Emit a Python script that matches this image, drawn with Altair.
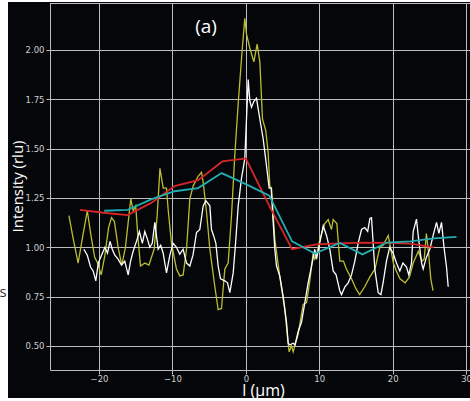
import altair as alt
import pandas as pd

# ---- data ----
yellow_x = [-24.1, -23.5, -22.85, -22.2, -21.6, -21.1, -20.6, -20.2, -19.7, -19.2, -18.7, -18.3, -17.9, -17.4,
            -16.9, -16.4, -15.9, -15.67, -15.35, -15.0, -14.7, -14.35, -13.76, -13.2, -12.5, -12.1, -11.7,
            -11.26, -10.81, -10.58, -10.13, -9.45, -9.0, -8.54, -8.08, -7.63, -7.18, -6.5, -6.04, -5.81, -5.36,
            -4.9, -4.22, -3.77, -3.32, -2.86, -2.41, -1.95, -1.5, -1.0, -0.5, -0.14, 0.09, 0.54, 1.09, 1.54,
            1.91, 2.27, 2.72, 3.04, 3.27, 3.5, 3.95, 4.63, 5.31, 5.77, 5.9, 6.22, 6.45, 6.67, 7.13, 7.81, 8.27,
            8.72, 9.17, 9.4, 9.7, 10.08, 10.76, 11.22, 11.67, 11.9, 12.4, 12.8, 13.3, 13.7, 14.4, 15.0, 15.5,
            16.2, 16.9, 17.6, 18.25, 18.7, 19.4, 20.1, 20.5, 21.0, 21.7, 22.3, 22.8, 23.5, 24.0, 24.3, 24.6,
            24.9, 25.2, 25.5]
yellow_y = [1.16, 1.04, 0.92, 1.06, 1.185, 1.06, 0.95, 0.92, 0.86, 0.96, 1.10, 1.15, 1.13, 1.00,
            0.91, 1.00, 1.17, 1.245, 1.185, 1.21, 1.05, 0.905, 0.92, 0.91, 0.99, 1.15, 1.40,
            1.30, 1.30, 1.19, 1.02, 0.89, 0.855, 0.86, 0.99, 1.245, 1.31, 1.36, 1.38, 1.33, 1.18,
            0.99, 0.80, 0.684, 0.69, 0.89, 0.92, 1.16, 1.47, 1.75, 2.0, 2.16, 2.08, 2.01, 1.94, 2.03,
            1.94, 1.65, 1.59, 1.48, 1.31, 1.30, 1.04, 0.85, 0.684, 0.51, 0.47, 0.50, 0.47, 0.50, 0.56, 0.71, 0.72,
            0.83, 0.97, 0.94, 0.97, 1.04, 1.12, 1.14, 1.09, 1.14, 1.12, 0.93, 0.93, 0.89, 0.84, 0.79, 0.76,
            0.80, 0.85, 0.89, 1.0, 1.01, 1.06, 0.92, 0.88, 0.84, 0.82, 0.85, 0.92, 0.98, 0.93, 0.94, 1.07,
            0.97, 0.84, 0.78]

white_x = [-22.07, -21.6, -21.16, -20.8, -20.44, -20.1, -19.66, -19.2, -18.85, -18.5, -18.2, -17.85, -17.4,
           -16.94, -16.5, -16.03, -15.7, -15.35, -14.9, -14.5, -14.1, -13.76, -13.4, -13.08, -12.75, -12.4,
           -12.15, -11.94, -11.6, -11.26, -10.81, -10.35, -9.9, -9.45, -9.0, -8.54, -8.08, -7.63, -7.2, -6.72,
           -6.27, -5.81, -5.45, -5.1, -4.9, -4.68, -4.4, -4.08, -3.77, -3.45, -3.15, -2.86, -2.5, -2.18, -1.72,
           -1.36, -1.04, -0.59, -0.36, -0.14, 0.32, 0.55, 0.77, 1.1, 1.45, 1.91, 2.36, 2.81, 3.18, 3.45, 3.72,
           3.95, 4.18, 4.63, 5.09, 5.54, 5.77, 6.0, 6.22, 6.45, 6.7, 7.13, 7.58, 8.04, 8.49, 8.95, 9.4, 9.63,
           10.08, 10.54, 10.99, 11.44, 11.9, 12.3, 12.8, 13.04, 13.5, 13.94, 14.4, 14.85, 15.3, 15.76, 16.2,
           16.6, 16.9, 17.12, 17.35, 17.57, 18.03, 18.4, 18.7, 19.16, 19.6, 20.07, 20.52, 20.98, 21.4, 21.89,
           22.2, 22.57, 22.8, 23.25, 23.48, 23.94, 24.16, 24.6, 25.07, 25.52, 25.98, 26.3, 26.66, 27.0, 27.34,
           27.57]
white_y = [0.99, 0.96, 0.90, 0.88, 0.83, 0.92, 0.96, 1.00, 0.97, 1.03, 0.99, 0.96, 0.94,
           0.91, 0.93, 0.86, 0.93, 0.98, 1.03, 1.08, 1.02, 1.08, 1.04, 1.0, 1.02, 1.126,
           1.05, 0.99, 1.01, 0.97, 0.87, 0.96, 1.02, 1.00, 0.965, 0.99, 0.92, 0.905, 0.96, 1.075,
           1.09, 1.21, 1.236, 1.22, 1.21, 1.09, 1.06, 1.02, 0.905, 0.84, 0.835, 0.83, 0.82, 0.77, 0.87,
           1.04, 1.21, 1.35, 1.40, 1.45, 1.85, 1.74, 1.71, 1.74, 1.755, 1.65, 1.55, 1.415, 1.30, 1.30, 1.13,
           0.99, 0.905, 0.854, 0.75, 0.62, 0.514, 0.505, 0.51, 0.514, 0.505, 0.573, 0.62, 0.72, 0.82, 0.905, 0.99, 0.94,
           1.024, 1.109, 1.06, 0.99, 0.88, 0.86, 0.78, 0.76, 0.80, 0.82, 0.86, 0.93, 1.02, 1.09, 1.10,
           1.08, 1.146, 1.15, 1.02, 0.89, 0.77, 0.76, 0.82, 0.93, 1.0, 0.97, 0.92, 0.88, 0.92, 0.90,
           0.86, 0.92, 1.08, 1.143, 1.06, 0.92, 0.89, 0.95, 0.99, 1.06, 1.126, 1.07, 1.126, 1.0, 0.90,
           0.80]

red_x = [-22.6, -19.4, -16.1, -12.9, -9.7, -6.5, -3.2, 0.0, 3.2, 6.3, 9.6, 12.8, 16.0, 19.2, 22.4, 25.6]
red_y = [1.19, 1.175, 1.163, 1.225, 1.31, 1.34, 1.435, 1.45, 1.21, 0.99, 1.015, 1.02, 1.024, 1.022, 1.018, 1.0]

teal_x = [-19.3, -16.1, -12.9, -9.7, -6.5, -3.3, 0.0, 3.2, 6.3, 9.4, 12.8, 15.9, 19.2, 22.4, 25.6, 28.7]
teal_y = [1.185, 1.19, 1.243, 1.284, 1.30, 1.376, 1.32, 1.262, 1.03, 0.968, 1.022, 0.964, 1.024, 1.03, 1.045, 1.053]

x_ticks = [-20, -10, 0, 10, 20, 30]
y_ticks = [0.5, 0.75, 1.0, 1.25, 1.5, 1.75, 2.0]

GRID = "#bdbdbd"
BG = "#05060a"

x_scale = alt.Scale(domain=[-26.68, 30.54], nice=False, zero=False)
y_scale = alt.Scale(domain=[0.378, 2.238], nice=False, zero=False)

x_axis = alt.Axis(values=x_ticks, grid=True, gridColor=GRID, gridWidth=1, domainColor=GRID,
                  tickColor=GRID, tickSize=4, labelColor="#d0d0d0", labelFont="DejaVu Sans",
                  labelFontSize=8.5, labelPadding=0, title="l (μm)", titleColor="white",
                  titleFont="Open Sans", titleFontSize=16, titleFontWeight="normal",
                  titleX=213, titleY=25, titleAlign="center", titleBaseline="alphabetic")
y_axis = alt.Axis(values=y_ticks, format=".2f", grid=True, gridColor=GRID, gridWidth=1, domainColor=GRID,
                  tickColor=GRID, tickSize=4, labelColor="#d0d0d0", labelFont="DejaVu Sans",
                  labelFontSize=8.5, labelPadding=2, title="Intensity (rlu)", titleColor="white",
                  titleFont="Open Sans", titleFontSize=15, titleFontWeight="normal",
                  titleX=-28, titleY=183, titleAlign="center", titleBaseline="alphabetic", titleAngle=270)


def series(xs, ys, color, width):
    df = pd.DataFrame({"x": xs, "y": ys})
    return alt.Chart(df).mark_line(color=color, strokeWidth=width, clip=True).encode(
        x=alt.X("x:Q", scale=x_scale, axis=x_axis),
        y=alt.Y("y:Q", scale=y_scale, axis=y_axis),
    )


one = pd.DataFrame({"a": [0]})

top_rule = alt.Chart(one).mark_rule(color=GRID, strokeWidth=1).encode(y=alt.value(0.5))
left_strip = alt.Chart(one).mark_rect(color="white").encode(
    x=alt.value(-50), x2=alt.value(-42), y=alt.value(-3), y2=alt.value(398))
bottom_strip = alt.Chart(one).mark_rect(color="white").encode(
    x=alt.value(-50), x2=alt.value(420), y=alt.value(395), y2=alt.value(398))
top_strip = alt.Chart(one).mark_rect(color="white").encode(
    x=alt.value(-50), x2=alt.value(420), y=alt.value(-3), y2=alt.value(-1))
label_a = alt.Chart(one).mark_text(text="(a)", color="white", font="Open Sans", fontSize=19,
                                   align="center", baseline="middle").encode(
    x=alt.value(156), y=alt.value(24))
label_s = alt.Chart(one).mark_text(text="s", color="#333333", font="Open Sans", fontSize=15,
                                   align="center", baseline="middle").encode(
    x=alt.value(-47), y=alt.value(289))

chart = alt.layer(
    series(yellow_x, yellow_y, "#bcbd30", 1.3),
    series(white_x, white_y, "#ffffff", 1.3),
    series(red_x, red_y, "#d62728", 1.8),
    series(teal_x, teal_y, "#22adb0", 1.8),
    top_rule, left_strip, bottom_strip, top_strip, label_a, label_s,
).properties(
    width=420, height=367,
    background=BG,
    padding={"left": 50, "top": 3, "right": 0, "bottom": 31},
    autosize=alt.AutoSizeParams(type="none"),
).configure_view(stroke=None)

chart.save("out.html", embed_options={"renderer": "svg", "actions": False})
